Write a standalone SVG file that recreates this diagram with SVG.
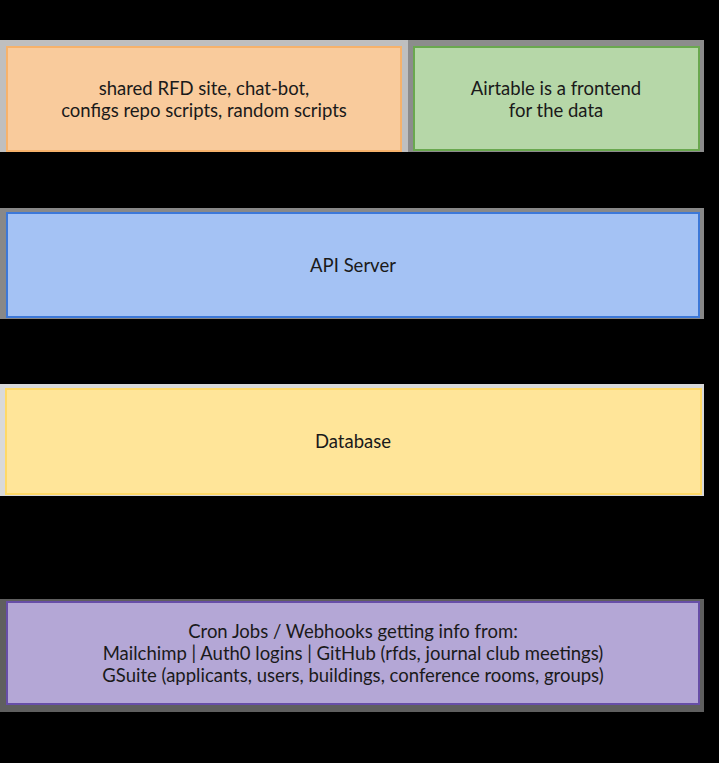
<svg xmlns="http://www.w3.org/2000/svg" width="719" height="763" viewBox="0 0 719 763">
<style>
text{font-family:Lato,"Open Sans","Liberation Sans",sans-serif;font-size:18.5px;fill:#1a1a1a;text-anchor:middle}
.box{stroke-width:2}
</style>
<rect x="0" y="0" width="719" height="763" fill="#000"/>
<g id="clients">
<rect x="0" y="40" width="408" height="112" fill="#bfbfbf"/>
<rect class="box" x="7" y="47" width="394" height="104" fill="#f9cb9c" stroke="#f6b26b"/>
<text x="204" y="95">shared RFD site, chat-bot,</text>
<text x="204" y="117">configs repo scripts, random scripts</text>
</g>
<g id="airtable">
<rect x="408" y="40" width="296" height="112" fill="#8c8c8c"/>
<rect class="box" x="414" y="47" width="285" height="103" fill="#b6d7a8" stroke="#6aa84f"/>
<text x="556" y="95">Airtable is a frontend</text>
<text x="556" y="117">for the data</text>
</g>
<g id="api-server">
<rect x="0" y="208" width="704" height="111" fill="#888888"/>
<rect class="box" x="7" y="213" width="692" height="104" fill="#a4c2f4" stroke="#3c78d8"/>
<text x="353" y="272">API Server</text>
</g>
<g id="database">
<rect x="0" y="384" width="704" height="112" fill="#d9d9d9"/>
<rect class="box" x="6" y="389" width="695" height="105" fill="#ffe599" stroke="#ffd966"/>
<text x="353" y="448">Database</text>
</g>
<g id="cron-jobs">
<rect x="0" y="599" width="704" height="113" fill="#5f5f5f"/>
<rect class="box" x="7" y="602" width="692" height="102" fill="#b4a7d6" stroke="#674ea7"/>
<text x="353" y="638">Cron Jobs / Webhooks getting info from:</text>
<text x="353" y="660">Mailchimp | Auth0 logins | GitHub (rfds, journal club meetings)</text>
<text x="353" y="682">GSuite (applicants, users, buildings, conference rooms, groups)</text>
</g>
<g id="connectors"></g>
</svg>
